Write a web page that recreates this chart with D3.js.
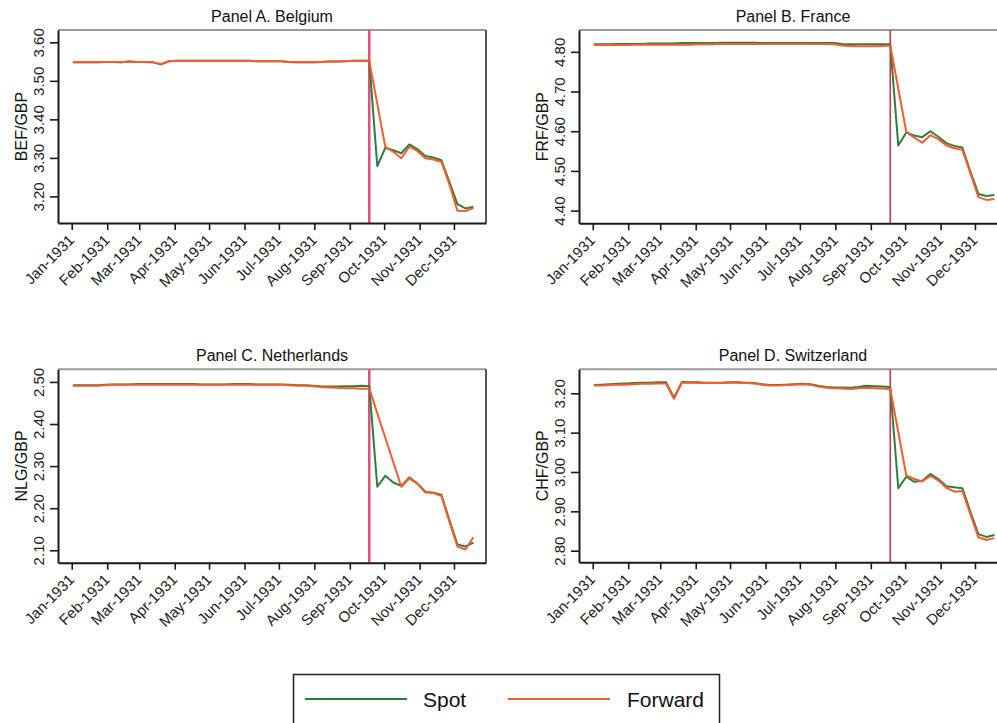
<!DOCTYPE html>
<html>
<head>
<meta charset="utf-8">
<script src="https://cdn.jsdelivr.net/npm/d3@7/dist/d3.min.js"></script>
<style>
  html, body { margin: 0; padding: 0; background: #fff; }
  svg { display: block; font-family: "Liberation Sans", Arial, sans-serif; }
</style>
</head>
<body>
<svg id="chart" width="997" height="723"></svg>
<script>
// ---------- DATA ----------
const weekDates = [
  "1931-01-02","1931-01-09","1931-01-16","1931-01-23","1931-01-30",
  "1931-02-06","1931-02-13","1931-02-20","1931-02-27",
  "1931-03-06","1931-03-13","1931-03-20","1931-03-27",
  "1931-04-03","1931-04-10","1931-04-17","1931-04-24",
  "1931-05-01","1931-05-08","1931-05-15","1931-05-22","1931-05-29",
  "1931-06-05","1931-06-12","1931-06-19","1931-06-26",
  "1931-07-03","1931-07-10","1931-07-17","1931-07-24","1931-07-31",
  "1931-08-07","1931-08-14","1931-08-21","1931-08-28",
  "1931-09-04","1931-09-11","1931-09-18","1931-09-25",
  "1931-10-02","1931-10-09","1931-10-16","1931-10-23","1931-10-30",
  "1931-11-06","1931-11-13","1931-11-20","1931-11-27",
  "1931-12-04","1931-12-11","1931-12-18"
];
const breakDate = "1931-09-18";
const monthTicks = ["1931-01-01","1931-02-01","1931-03-01","1931-04-01","1931-05-01","1931-06-01",
  "1931-07-01","1931-08-01","1931-09-01","1931-10-01","1931-11-01","1931-12-01"];

const belgiumSpot = [
  3.548,3.548,3.548,3.548,3.549,3.549,3.548,3.550,3.549,3.549,
  3.548,3.543,3.551,3.552,3.552,3.552,3.552,3.552,3.552,3.552,
  3.552,3.552,3.552,3.551,3.551,3.551,3.551,3.549,3.548,3.548,
  3.548,3.549,3.550,3.550,3.551,3.552,3.552,3.552,
  3.279,3.326,3.320,3.312,3.335,3.323,3.305,3.301,3.294,3.238,3.180,3.169,3.173
];
const belgiumForward = [
  3.548,3.548,3.548,3.548,3.549,3.549,3.548,3.550,3.549,3.549,
  3.548,3.543,3.551,3.552,3.552,3.552,3.552,3.552,3.552,3.552,
  3.552,3.552,3.552,3.551,3.551,3.551,3.551,3.549,3.548,3.548,
  3.548,3.549,3.550,3.550,3.551,3.552,3.552,3.552,
  null,3.329,3.316,3.299,3.329,3.318,3.299,3.296,3.290,3.232,3.163,3.162,3.170
];
const franceSpot = [
  4.819,4.819,4.819,4.820,4.820,4.820,4.820,4.821,4.821,4.821,
  4.821,4.822,4.822,4.822,4.822,4.822,4.823,4.823,4.823,4.823,
  4.823,4.822,4.822,4.822,4.822,4.822,4.822,4.822,4.822,4.822,
  4.822,4.820,4.819,4.819,4.819,4.819,4.819,4.819,
  4.564,4.597,4.589,4.585,4.600,4.586,4.570,4.563,4.559,4.498,4.442,4.437,4.439
];
const franceForward = [
  4.817,4.817,4.817,4.817,4.817,4.818,4.818,4.818,4.818,4.818,
  4.818,4.818,4.818,4.819,4.819,4.819,4.820,4.820,4.820,4.820,
  4.820,4.820,4.820,4.820,4.820,4.820,4.820,4.820,4.820,4.820,
  4.819,4.816,4.815,4.814,4.814,4.814,4.815,4.816,
  null,4.598,4.584,4.571,4.590,4.580,4.564,4.557,4.553,4.494,4.434,4.427,4.429
];
const netherlandsSpot = [
  2.492,2.492,2.492,2.492,2.493,2.494,2.494,2.494,2.495,2.495,
  2.495,2.495,2.495,2.495,2.495,2.495,2.494,2.494,2.494,2.494,
  2.495,2.495,2.495,2.494,2.494,2.494,2.494,2.493,2.492,2.492,
  2.491,2.489,2.489,2.489,2.490,2.490,2.491,2.490,
  2.251,2.277,2.261,2.253,2.273,2.259,2.239,2.237,2.232,2.172,2.114,2.109,2.118
];
const netherlandsForward = [
  2.491,2.491,2.491,2.491,2.492,2.493,2.493,2.493,2.493,2.493,
  2.493,2.493,2.493,2.493,2.493,2.493,2.493,2.493,2.493,2.493,
  2.493,2.493,2.493,2.493,2.493,2.493,2.493,2.492,2.491,2.491,
  2.490,2.488,2.487,2.486,2.485,2.485,2.484,2.484,
  null,null,null,2.251,2.271,2.258,2.238,2.236,2.229,2.168,2.109,2.102,2.131
];
const switzerlandSpot = [
  3.221,3.222,3.223,3.224,3.225,3.226,3.227,3.227,3.228,3.228,
  3.189,3.229,3.228,3.228,3.227,3.227,3.227,3.228,3.228,3.227,
  3.226,3.223,3.221,3.221,3.222,3.223,3.224,3.223,3.219,3.216,
  3.215,3.215,3.214,3.216,3.219,3.218,3.217,3.216,
  2.959,2.988,2.975,2.978,2.995,2.982,2.964,2.961,2.959,2.899,2.842,2.835,2.840
];
const switzerlandForward = [
  3.220,3.220,3.221,3.222,3.222,3.223,3.224,3.224,3.225,3.225,
  3.186,3.227,3.227,3.226,3.226,3.226,3.226,3.227,3.227,3.226,
  3.225,3.222,3.220,3.220,3.221,3.222,3.223,3.222,3.217,3.214,
  3.213,3.212,3.211,3.213,3.214,3.213,3.212,3.211,
  null,2.991,2.982,2.976,2.990,2.979,2.960,2.950,2.952,2.893,2.834,2.827,2.832
];

const panelTitles = ["Panel A. Belgium","Panel B. France","Panel C. Netherlands","Panel D. Switzerland"];
const yLabels = ["BEF/GBP","FRF/GBP","NLG/GBP","CHF/GBP"];
const yTicksA = [3.20,3.30,3.40,3.50,3.60];
const yTicksB = [4.40,4.50,4.60,4.70,4.80];
const yTicksC = [2.10,2.20,2.30,2.40,2.50];
const yTicksD = [2.80,2.90,3.00,3.10,3.20];
const yDomainA = [3.131, 3.632];
const yDomainB = [4.368, 4.855];
const yDomainC = [2.0705, 2.530];
const yDomainD = [2.7705, 3.261];
const xDomain = ["1930-12-20","1931-12-29"];
const legendLabels = ["Spot","Forward"];

// ---------- LAYOUT ----------
const parse = d3.timeParse("%Y-%m-%d");
const dates = weekDates.map(parse);
const COL_SPOT = "#2a7f3c", COL_FWD = "#fb5b2c";

const panels = [
  {title: panelTitles[0], ylab: yLabels[0], spot: belgiumSpot, fwd: belgiumForward, ticks: yTicksA, dom: yDomainA,
   x: 58, y: 30, w: 428, h: 193, vcol: "#e2507f", vw: 2.5},
  {title: panelTitles[1], ylab: yLabels[1], spot: franceSpot, fwd: franceForward, ticks: yTicksB, dom: yDomainB,
   x: 579, y: 30, w: 428, h: 193.3, vcol: "#d2334c", vw: 1.6},
  {title: panelTitles[2], ylab: yLabels[2], spot: netherlandsSpot, fwd: netherlandsForward, ticks: yTicksC, dom: yDomainC,
   x: 58, y: 369.3, w: 428, h: 193.4, vcol: "#e2507f", vw: 2.5},
  {title: panelTitles[3], ylab: yLabels[3], spot: switzerlandSpot, fwd: switzerlandForward, ticks: yTicksD, dom: yDomainD,
   x: 579, y: 369.3, w: 428, h: 193, vcol: "#d2334c", vw: 1.6}
];

const svg = d3.select("#chart");
const fmtY = d3.format(".2f");
const fmtX = d3.timeFormat("%b-%Y");
const TICK_FONT = 15;

panels.forEach(p => {
  const g = svg.append("g").attr("transform", `translate(${p.x},${p.y})`);
  const x = d3.scaleTime().domain(xDomain.map(parse)).range([0, p.w]);
  const y = d3.scaleLinear().domain(p.dom).range([p.h, 0]);

  // frame top & right
  g.append("line").attr("x1", 0).attr("x2", p.w).attr("y1", 0).attr("y2", 0)
    .attr("stroke", "#9a9a9a").attr("stroke-width", 2);
  g.append("line").attr("x1", p.w).attr("x2", p.w).attr("y1", 0).attr("y2", p.h)
    .attr("stroke", "#555").attr("stroke-width", 2);

  // vertical break line
  const bx = x(parse(breakDate));
  g.append("line").attr("x1", bx).attr("x2", bx).attr("y1", 0).attr("y2", p.h)
    .attr("stroke", p.vcol).attr("stroke-width", p.vw);

  // series
  const mk = vals => dates.map((d, i) => ({d, v: vals[i]})).filter(e => e.v !== null);
  const line = d3.line().x(e => x(e.d)).y(e => y(e.v));
  g.append("path").datum(mk(p.spot)).attr("d", line)
    .attr("fill", "none").attr("stroke", COL_SPOT).attr("stroke-width", 2).attr("stroke-linejoin", "round");
  g.append("path").datum(mk(p.fwd)).attr("d", line)
    .attr("fill", "none").attr("stroke", COL_FWD).attr("stroke-width", 2).attr("stroke-linejoin", "round");

  // y axis
  const ya = g.append("g").call(d3.axisLeft(y).tickValues(p.ticks).tickFormat(fmtY).tickSize(8).tickSizeOuter(0));
  ya.select(".domain").attr("stroke", "#1a1a1a").attr("stroke-width", 2);
  ya.selectAll(".tick line").attr("stroke", "#1a1a1a").attr("stroke-width", 1.6);
  ya.selectAll(".tick text").attr("x", 0).attr("y", -14.5).attr("dy", 0)
    .attr("text-anchor", "middle").attr("transform", "rotate(-90)")
    .attr("font-size", TICK_FONT).attr("fill", "#222").attr("font-family", "Liberation Sans, Arial, sans-serif");

  // x axis
  const xa = g.append("g").attr("transform", `translate(0,${p.h})`)
    .call(d3.axisBottom(x).tickValues(monthTicks.map(parse)).tickFormat(fmtX).tickSize(7).tickSizeOuter(0));
  xa.select(".domain").attr("stroke", "#1a1a1a").attr("stroke-width", 2);
  xa.selectAll(".tick line").attr("stroke", "#1a1a1a").attr("stroke-width", 1.6);
  xa.selectAll(".tick text").attr("x", 0).attr("y", 0).attr("dy", 0)
    .attr("text-anchor", "end").attr("transform", "translate(3,18) rotate(-45)")
    .attr("font-size", TICK_FONT).attr("fill", "#222").attr("font-family", "Liberation Sans, Arial, sans-serif");

  // title
  g.append("text").attr("x", p.w / 2).attr("y", -8).attr("text-anchor", "middle")
    .attr("font-size", 16).attr("fill", "#111").text(p.title);

  // y label
  g.append("text").attr("transform", `translate(${-31},${p.h / 2}) rotate(-90)`)
    .attr("text-anchor", "middle").attr("font-size", 16).attr("fill", "#111").text(p.ylab);
});

// legend
const lg = svg.append("g");
lg.append("rect").attr("x", 293.5).attr("y", 674.5).attr("width", 426).attr("height", 70)
  .attr("fill", "#fff").attr("stroke", "#222").attr("stroke-width", 1.5);
const legendItems = [
  {label: legendLabels[0], color: COL_SPOT, x1: 305, x2: 407, tx: 423},
  {label: legendLabels[1], color: COL_FWD, x1: 508, x2: 610, tx: 627}
];
legendItems.forEach(it => {
  lg.append("line").attr("x1", it.x1).attr("x2", it.x2).attr("y1", 699).attr("y2", 699)
    .attr("stroke", it.color).attr("stroke-width", 2);
  lg.append("text").attr("x", it.tx).attr("y", 706.5).attr("font-size", 21).attr("fill", "#111").text(it.label);
});
</script>
</body>
</html>
